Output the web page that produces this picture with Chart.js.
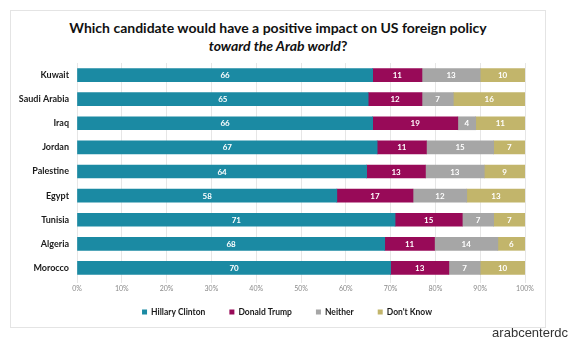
<!DOCTYPE html>
<html>
<head>
<meta charset="utf-8">
<script src="https://cdn.jsdelivr.net/npm/chart.js@4.4.1/dist/chart.umd.min.js"></script>
<style>
  html, body { margin: 0; padding: 0; background: #fff; }
  #wrap { position: relative; width: 570px; height: 341px; overflow: hidden; }
  #frame { position: absolute; left: 10px; top: 10px; width: 534px; height: 316px; border: 1px solid #e4e4e4; }
  #title { position: absolute; left: 10px; top: 19px; width: 536px; text-align: center;
           font: bold 14px Lato, sans-serif; line-height: 18px; color: #111; }
  #credit { position: absolute; right: 2px; top: 325px; font: 13px "Liberation Sans", Arial, sans-serif; color: #333; }
  canvas { position: absolute; left: 0; top: 0; }
</style>
</head>
<body>
<div id="wrap">
  <div id="frame"></div>
  <div id="title">Which candidate would have a positive impact on US foreign policy<br><i>toward the Arab world</i>?</div>
  <canvas id="GraficoBarras" width="570" height="341"></canvas>
  <div id="credit">arabcenterdc</div>
</div>
<script>
// datos
var paises = ['Kuwait', 'Saudi Arabia', 'Iraq', 'Jordan', 'Palestine', 'Egypt', 'Tunisia', 'Algeria', 'Morocco'];
var clinton = [66, 65, 66, 67, 64, 58, 71, 68, 70];
var trump = [11, 12, 19, 11, 13, 17, 15, 11, 13];
var neither = [13, 7, 4, 15, 13, 12, 7, 14, 7];
var dontKnow = [10, 16, 11, 7, 9, 13, 7, 6, 10];
var xTicks = ['0%', '10%', '20%', '30%', '40%', '50%', '60%', '70%', '80%', '90%', '100%'];

// barras apiladas al 100%
function share(arr, i) {
  var total = clinton[i] + trump[i] + neither[i] + dontKnow[i];
  return arr[i] / total * 100;
}
function toShare(arr) {
  return arr.map(function(v, i) { return share(arr, i); });
}

// numeros blancos dentro de cada segmento
var etiquetas = {
  id: 'etiquetas',
  afterDatasetsDraw: function(chart) {
    var ctx = chart.ctx;
    ctx.save();
    ctx.fillStyle = '#ffffff';
    ctx.font = 'bold 8px Lato, sans-serif';
    ctx.textAlign = 'center';
    ctx.textBaseline = 'middle';
    chart.data.datasets.forEach(function(ds, d) {
      var meta = chart.getDatasetMeta(d);
      meta.data.forEach(function(bar, i) {
        ctx.fillText(String(ds.raw[i]), (bar.x + bar.base) / 2, bar.y + 0.5);
      });
    });
    ctx.restore();
  }
};

// leyenda dibujada a mano (la de Chart.js deja demasiado espacio)
var leyenda = {
  id: 'leyenda',
  afterDraw: function(chart) {
    var ctx = chart.ctx;
    ctx.save();
    ctx.font = 'bold 8.5px Lato, sans-serif';
    ctx.textBaseline = 'middle';
    var items = chart.data.datasets.map(function(ds) {
      return { text: ds.label, color: ds.backgroundColor, w: 9 + ctx.measureText(ds.label).width };
    });
    var gap = 24;
    var total = items.reduce(function(s, it) { return s + it.w; }, 0) + gap * (items.length - 1);
    var x = chart.width / 2 + 2 - total / 2;
    var y = chart.chartArea.bottom + 32;
    items.forEach(function(it) {
      ctx.fillStyle = it.color;
      ctx.fillRect(x, y - 2.5, 5, 5);
      ctx.fillStyle = '#1a1a1a';
      ctx.fillText(it.text, x + 9, y + 0.5);
      x += it.w + gap;
    });
    ctx.restore();
  }
};

var ctx1 = document.getElementById('GraficoBarras').getContext('2d');
var GraficoBarras = new Chart(ctx1, {
  type: 'bar',
  data: {
    labels: paises,
    datasets: [
      { label: 'Hillary Clinton', data: toShare(clinton), raw: clinton, backgroundColor: '#1b8aa3' },
      { label: 'Donald Trump', data: toShare(trump), raw: trump, backgroundColor: '#980a58' },
      { label: 'Neither', data: toShare(neither), raw: neither, backgroundColor: '#a6a6a6' },
      { label: "Don't Know", data: toShare(dontKnow), raw: dontKnow, backgroundColor: '#c2b56b' }
    ]
  },
  options: {
    indexAxis: 'y',
    responsive: false,
    animation: false,
    barThickness: 13,
    layout: { padding: { left: 0, top: 63, right: 45, bottom: 44 } },
    scales: {
      x: {
        stacked: true,
        min: 0,
        max: 100,
        ticks: {
          stepSize: 10,
          padding: 2,
          color: '#8a8a8a',
          font: { family: 'Lato, sans-serif', size: 7 },
          callback: function(v, i) { return xTicks[i]; }
        },
        grid: { color: '#e6e6e6', tickLength: 3, tickColor: '#e6e6e6' },
        border: { display: false },
        afterFit: function(s) { s.height = 17; }
      },
      y: {
        stacked: true,
        grid: { display: false, drawTicks: false },
        border: { display: false },
        ticks: {
          padding: 8,
          color: '#1a1a1a',
          font: { family: 'Lato, sans-serif', size: 9, weight: 'bold' }
        },
        afterFit: function(s) { s.width = 77; }
      }
    },
    plugins: {
      legend: { display: false },
      tooltip: { enabled: false }
    }
  },
  plugins: [etiquetas, leyenda]
});
</script>
</body>
</html>
